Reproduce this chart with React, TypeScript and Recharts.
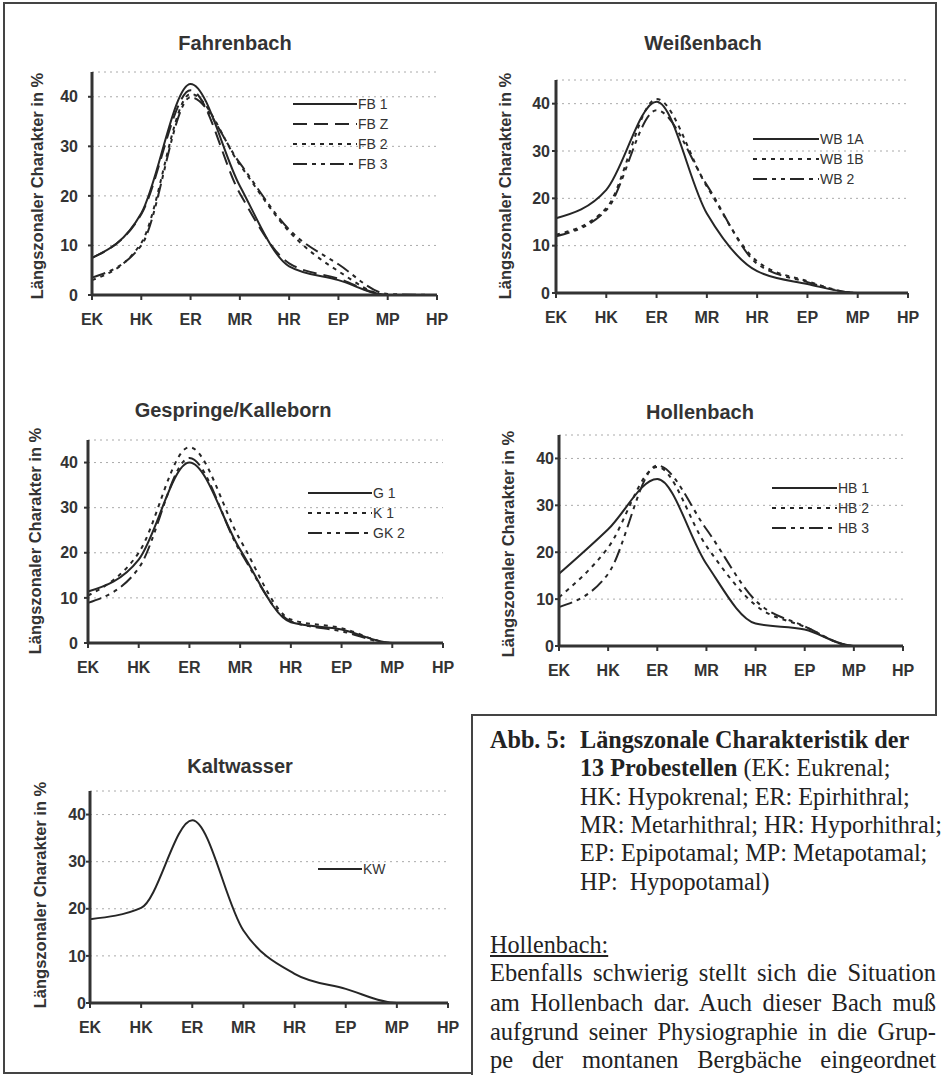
import React from 'react';
import { LineChart, Line, XAxis, YAxis, CartesianGrid, Legend } from 'recharts';

// ---------- data ----------
const zones = ['EK', 'HK', 'ER', 'MR', 'HR', 'EP', 'MP', 'HP'];
const yTicks = [0, 10, 20, 30, 40];
const yLabel = 'Längszonaler Charakter in %';

// Fahrenbach
const fb1 = [7.5, 16.5, 42.6, 22, 5.8, 3, 0, 0];
const fbZ = [7.5, 16.3, 41.3, 20.5, 6.4, 3.3, 0, 0];
const fb2 = [3, 10.5, 40.6, 26.3, 12.8, 4.8, 0, 0];
const fb3 = [3.5, 10, 39.9, 26.6, 13.2, 6.2, 0.2, 0];

// Weißenbach
const wb1A = [15.8, 21.8, 40.4, 16.8, 4.6, 1.9, 0, 0];
const wb1B = [12.3, 17.9, 41, 22.5, 6.7, 2.5, 0, 0];
const wb2 = [12, 17.5, 38.6, 22.8, 6.2, 2.3, 0, 0];

// Gespringe/Kalleborn
const g1 = [11.4, 18.5, 40, 20.7, 4.6, 3, 0, 0];
const k1 = [10.5, 20, 43.4, 22.9, 5.2, 3.3, 0, 0];
const gk2 = [8.9, 16.6, 41, 20.3, 4.8, 2.6, 0, 0];

// Hollenbach
const hb1 = [15.4, 24.9, 35.6, 17.5, 4.8, 3.5, 0, 0];
const hb2 = [10.4, 21, 38.2, 21.3, 8.7, 4.1, 0, 0];
const hb3 = [8.3, 15.4, 38.5, 24.9, 9.7, 4.2, 0, 0];

// Kaltwasser
const kw = [17.8, 20.2, 38.8, 15.4, 6.2, 3, 0, 0];

// ---------- styling ----------
const DASH: Record<string, string | undefined> = {
  solid: undefined,
  dashed: '14 7',
  dotted: '4 5',
  dashDot: '14 5 4 5 4 5',
};
const INK = '#262626';
const SANS = '"Liberation Sans", Arial, Helvetica, sans-serif';
const SERIF = '"Liberation Serif", "Times New Roman", Times, serif';

type Series = { name: string; values: number[]; dash: string };

type PanelProps = {
  title: string;
  series: Series[];
  x0: number; x1: number; yTop: number; y0: number;
  titleX: number; titleY: number;
  legendX: number; legendLen: number; legendY: number;
  ylabX: number; ylabY: number;
  tickGap: number;
};

function Panel(p: PanelProps) {
  const ML = 90, MT = 10, MR = 25, MB = 40, YW = 50;
  const left = p.x0 - ML;
  const top = p.yTop - MT;
  const width = p.x1 - p.x0 + ML + MR;
  const height = p.y0 - p.yTop + MT + MB;
  const data = zones.map((z, i) => {
    const row: Record<string, any> = { zone: z };
    p.series.forEach((s) => { row[s.name] = s.values[i]; });
    return row;
  });
  const tickSize = 4;
  const legendContent = () => (
    <div style={{ fontFamily: SANS, fontSize: 14, color: '#333' }}>
      {p.series.map((s) => (
        <div key={s.name} style={{ height: 20, display: 'flex', alignItems: 'center', whiteSpace: 'nowrap' }}>
          <svg width={p.legendLen} height={20} style={{ display: 'block' }}>
            <line x1={0} y1={10} x2={p.legendLen} y2={10} stroke={INK} strokeWidth={2} strokeDasharray={DASH[s.dash]} />
          </svg>
          <span style={{ marginLeft: 1 }}>{s.name}</span>
        </div>
      ))}
    </div>
  );
  return (
    <>
      <div style={{ position: 'absolute', left: p.titleX, top: p.titleY, transform: 'translate(-50%,-50%)', font: `bold 20px ${SANS}`, color: '#333', whiteSpace: 'nowrap' }}>{p.title}</div>
      <div style={{ position: 'absolute', left: p.ylabX, top: p.ylabY, transform: 'translate(-50%,-50%) rotate(-90deg)', font: `bold 16.5px ${SANS}`, color: '#333', whiteSpace: 'nowrap' }}>{yLabel}</div>
      <div style={{ position: 'absolute', left, top }}>
        <LineChart width={width} height={height} data={data} margin={{ top: MT, right: MR, left: ML - YW, bottom: 0 }}>
          <CartesianGrid vertical={false} stroke="#aaa" strokeDasharray="2 4" />
          <XAxis
            dataKey="zone"
            height={MB}
            interval={0}
            axisLine={{ stroke: '#333', strokeWidth: 3 }}
            tickLine={{ stroke: '#333', strokeWidth: 2 }}
            tickSize={5}
            tickMargin={14}
            tick={{ fill: '#333', fontSize: 16, fontWeight: 'bold', fontFamily: SANS }}
          />
          <YAxis
            width={YW}
            domain={[0, 45]}
            ticks={yTicks}
            interval={0}
            axisLine={{ stroke: '#333', strokeWidth: 3 }}
            tickLine={{ stroke: '#333', strokeWidth: 2 }}
            tickSize={tickSize}
            tickMargin={p.tickGap - tickSize}
            tick={{ fill: '#333', fontSize: 16, fontWeight: 'bold', fontFamily: SANS }}
          />
          <Legend
            layout="vertical"
            align="center"
            verticalAlign="middle"
            wrapperStyle={{ left: p.legendX - left, top: p.legendY - 10 - top, width: 'auto', height: 'auto' }}
            content={legendContent}
          />
          {p.series.map((s) => (
            <Line
              key={s.name}
              dataKey={s.name}
              type="monotone"
              stroke={INK}
              strokeWidth={2}
              strokeDasharray={DASH[s.dash]}
              dot={false}
              activeDot={false}
              isAnimationActive={false}
            />
          ))}
        </LineChart>
      </div>
    </>
  );
}

const hline = (x: number, y: number, w: number) => (
  <div style={{ position: 'absolute', left: x, top: y, width: w, height: 2, background: '#444' }} />
);
const vline = (x: number, y: number, h: number) => (
  <div style={{ position: 'absolute', left: x, top: y, width: 2, height: h, background: '#444' }} />
);

const capLine = (top: number, children: React.ReactNode, left = 580) => (
  <div style={{ position: 'absolute', left, top: top - 14, lineHeight: '28px', whiteSpace: 'nowrap', font: `24.2px ${SERIF}`, color: '#222' }}>{children}</div>
);
const paraLine = (top: number, text: string) => (
  <div style={{ position: 'absolute', left: 490, width: 446, top: top - 14, lineHeight: '28px', font: `24.5px ${SERIF}`, color: '#222', textAlign: 'justify', textAlignLast: 'justify', whiteSpace: 'nowrap' as any }}>{text}</div>
);

export default function App() {
  return (
    <div style={{ position: 'absolute', left: 0, top: 0, width: 941, height: 1075, overflow: 'hidden', background: '#fff' }}>
      {/* frame */}
      {hline(3, 2, 934)}
      {vline(3, 2, 1072)}
      {vline(935, 2, 714)}
      {hline(471, 714, 466)}
      {vline(471, 714, 361)}
      {hline(3, 1072, 470)}

      <Panel
        title="Fahrenbach"
        series={[
          { name: 'FB 1', values: fb1, dash: 'solid' },
          { name: 'FB Z', values: fbZ, dash: 'dashed' },
          { name: 'FB 2', values: fb2, dash: 'dotted' },
          { name: 'FB 3', values: fb3, dash: 'dashDot' },
        ]}
        x0={92} x1={437} yTop={72} y0={295}
        titleX={235} titleY={43}
        legendX={293} legendLen={64} legendY={104}
        ylabX={37} ylabY={186}
        tickGap={14}
      />
      <Panel
        title="Weißenbach"
        series={[
          { name: 'WB 1A', values: wb1A, dash: 'solid' },
          { name: 'WB 1B', values: wb1B, dash: 'dotted' },
          { name: 'WB 2', values: wb2, dash: 'dashDot' },
        ]}
        x0={556} x1={908} yTop={80} y0={293}
        titleX={703} titleY={43}
        legendX={753} legendLen={66} legendY={139}
        ylabX={505} ylabY={186}
        tickGap={6}
      />
      <Panel
        title="Gespringe/Kalleborn"
        series={[
          { name: 'G 1', values: g1, dash: 'solid' },
          { name: 'K 1', values: k1, dash: 'dotted' },
          { name: 'GK 2', values: gk2, dash: 'dashDot' },
        ]}
        x0={88} x1={443} yTop={440} y0={643}
        titleX={233} titleY={410}
        legendX={308} legendLen={64} legendY={493}
        ylabX={35} ylabY={541}
        tickGap={10}
      />
      <Panel
        title="Hollenbach"
        series={[
          { name: 'HB 1', values: hb1, dash: 'solid' },
          { name: 'HB 2', values: hb2, dash: 'dotted' },
          { name: 'HB 3', values: hb3, dash: 'dashDot' },
        ]}
        x0={559} x1={903} yTop={435} y0={646}
        titleX={700} titleY={412}
        legendX={772} legendLen={65} legendY={488}
        ylabX={508} ylabY={544}
        tickGap={5}
      />
      <Panel
        title="Kaltwasser"
        series={[{ name: 'KW', values: kw, dash: 'solid' }]}
        x0={90} x1={448} yTop={791} y0={1003}
        titleX={240} titleY={766}
        legendX={318} legendLen={44} legendY={869}
        ylabX={40} ylabY={895}
        tickGap={4}
      />

      {/* caption */}
      {capLine(740, <b>Abb. 5:</b>, 490)}
      {capLine(740, <b>Längszonale Charakteristik der</b>)}
      {capLine(768, <><b>13 Probestellen</b> (EK: Eukrenal;</>)}
      {capLine(797, 'HK: Hypokrenal; ER: Epirhithral;')}
      {capLine(825, 'MR: Metarhithral; HR: Hyporhithral;')}
      {capLine(853, 'EP: Epipotamal; MP: Metapotamal;')}
      {capLine(882, 'HP:\u00a0 Hypopotamal)')}

      {capLine(945, <span style={{ textDecoration: 'underline' }}>Hollenbach:</span>, 490)}
      {paraLine(973, 'Ebenfalls schwierig stellt sich die Situation')}
      {paraLine(1003, 'am Hollenbach dar. Auch dieser Bach muß')}
      {paraLine(1032, 'aufgrund seiner Physiographie in die Grup-')}
      {paraLine(1060, 'pe der montanen Bergbäche eingeordnet')}
    </div>
  );
}
